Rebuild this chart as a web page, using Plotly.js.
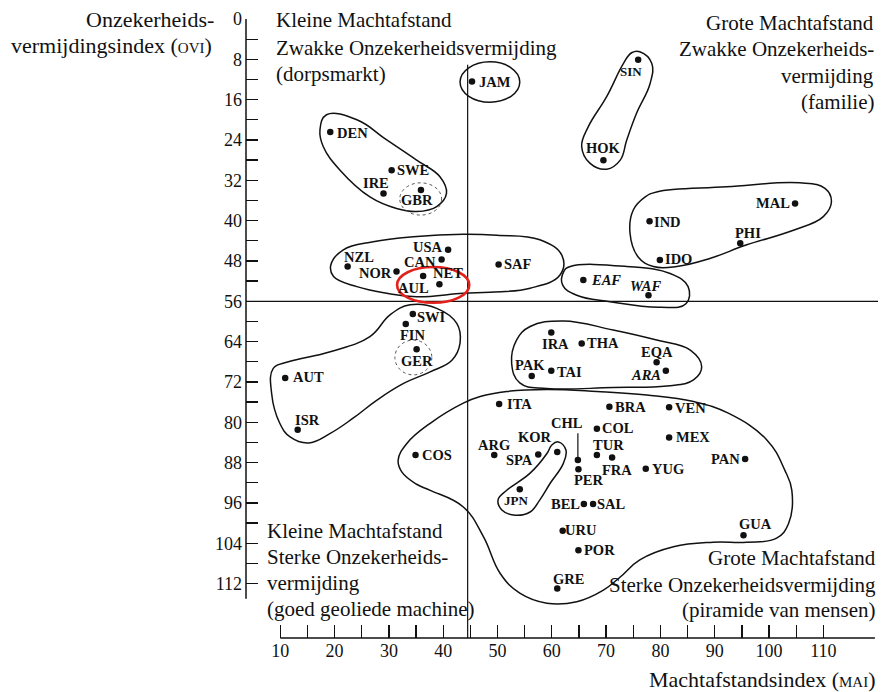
<!DOCTYPE html>
<html><head><meta charset="utf-8">
<script src="https://cdn.plot.ly/plotly-3.0.1.min.js"></script>
<style>body{margin:0;background:#fff}</style>
</head><body><div id="chart" style="width:890px;height:692px"></div>
<script>
// ---- data ----
const countries = ['DEN','SWE','IRE','GBR','NZL','NOR','USA','CAN','AUL','NET','SAF','JAM','SIN','HOK','MAL','IND','PHI','IDO','EAF','WAF','SWI','FIN','GER','AUT','ISR','IRA','THA','EQA','ARA','PAK','TAI','ITA','BRA','VEN','COL','MEX','COS','ARG','SPA','KOR','CHL','TUR','FRA','PER','YUG','PAN','JPN','BEL','SAL','URU','POR','GUA','GRE'];
const mai = [19.2,30.5,29.0,35.9,22.4,31.4,40.9,39.7,36.3,39.3,50.2,45.3,75.9,69.5,104.8,78.0,94.7,79.9,65.8,77.8,34.4,33.1,35.1,10.9,13.2,59.9,65.5,79.3,81.0,56.3,59.9,50.3,70.6,81.6,68.3,81.6,34.9,49.4,57.5,61.0,64.8,68.3,71.1,64.9,77.3,95.6,54.1,65.9,67.6,62.0,64.9,95.3,61.0];
const ovi = [22.4,30.0,34.6,33.9,49.1,50.1,45.8,47.7,51.0,52.6,48.7,12.4,8.1,28.0,36.6,40.1,44.5,47.8,51.8,54.8,58.5,60.5,65.5,71.2,81.5,62.2,64.4,68.1,69.8,70.8,69.8,76.4,76.9,77.0,81.3,83.0,86.5,86.5,86.4,85.9,87.5,86.5,87.0,89.3,89.2,87.3,93.3,96.2,96.2,101.5,105.4,102.4,113.0];
const italicCountries = ['EAF','WAF','ARA'];

const xTickVals = [10,20,30,40,50,60,70,80,90,100,110];
const xMinorVals = [15,25,35,45,55,65,75,85,95,105];
const yTickVals = [0,8,16,24,32,40,48,56,64,72,80,88,96,104,112];
const yMinorVals = [4,12,20,28,36,44,52,60,68,76,84,92,100,108];

const maiDivide = 44.5;
const oviDivide = 56;

// cluster outlines (hand-drawn in original), [mai, ovi]
const outlineNordic = [[18.5,19.0],[24.1,20.0],[29.6,24.0],[35.1,28.0],[39.4,31.3],[40.6,34.6],[38.8,37.2],[35.1,38.2],[31.4,37.6],[26.5,35.3],[21.0,30.0],[17.9,25.3],[17.3,22.0]];
const outlineAnglo = [[19.3,48.8],[21.6,45.8],[27.1,44.2],[34.5,43.2],[43.7,42.7],[49.9,42.9],[57.8,43.8],[61.9,47.0],[61.5,50.8],[56.0,53.4],[48.6,54.2],[43.7,54.4],[35.1,55.1],[29.6,54.4],[24.1,53.1],[19.8,51.1]];
const outlineSinHok = [[76.2,6.5],[78.4,8.8],[78.1,12.8],[75.6,18.7],[73.8,24.0],[72.6,28.0],[70.1,29.8],[67.0,28.6],[65.5,25.3],[66.7,21.4],[70.1,15.4],[73.2,8.8],[74.7,6.7]];
const outlineAsia = [[79.3,34.3],[92.2,33.3],[105.7,32.5],[110.3,33.6],[111.5,36.2],[110.0,39.2],[104.5,41.9],[95.9,44.8],[89.1,47.5],[83.0,49.1],[78.7,49.1],[75.9,47.2],[74.4,42.5],[75.0,37.9],[77.2,35.3]];
const outlineAfrica = [[63.4,49.1],[73.8,49.1],[81.8,50.5],[85.1,53.1],[84.7,56.5],[79.9,57.2],[70.7,56.1],[64.6,54.8],[62.0,52.8],[62.2,50.1]];
const outlineGerman = [[33.9,56.7],[38.8,57.4],[42.5,60.4],[43.1,64.3],[41.6,67.7],[37.6,70.0],[32.7,72.3],[27.8,75.6],[23.4,79.2],[19.2,82.2],[15.2,84.1],[11.8,82.9],[9.9,80.2],[8.4,74.3],[8.7,69.3],[11.5,68.0],[19.2,66.0],[26.5,63.0],[30.2,58.7]];
const outlineMidEast = [[56.0,61.0],[62.1,59.9],[71.3,61.7],[79.3,63.7],[85.5,65.7],[87.6,69.0],[86.1,71.6],[81.2,72.8],[71.3,73.1],[59.1,73.3],[54.1,72.2],[52.6,68.3],[53.5,63.7]];
const outlineLatin = [[31.7,87.5],[33.3,84.2],[37.6,80.2],[43.7,76.2],[46.8,74.9],[51.7,73.9],[59.1,73.5],[68.3,73.9],[77.5,74.6],[86.1,75.9],[92.5,78.2],[99.6,83.5],[102.9,89.5],[104.2,93.5],[103.6,100.1],[101.4,103.0],[95.9,103.8],[89.7,103.8],[82.4,104.7],[76.2,107.3],[72.6,110.7],[69.5,113.3],[64.6,115.6],[59.1,115.9],[54.1,113.9],[50.5,110.0],[47.4,102.7],[43.7,96.8],[37.6,93.5],[35.1,92.3],[32.4,89.9]];
const outlineJpnKor = [[61.2,83.9],[62.6,85.5],[62.1,88.2],[59.7,92.1],[57.8,95.4],[56.0,97.8],[52.9,98.4],[50.8,97.4],[50.1,95.4],[51.7,93.5],[56.0,90.1],[59.1,86.2],[60.0,84.5]];
const outlines = [outlineNordic, outlineAnglo, outlineSinHok, outlineAsia, outlineAfrica, outlineGerman, outlineMidEast, outlineLatin, outlineJpnKor];

// elliptical outlines: [x0, x1, y0, y1]
const ellipseJAM = [43.1, 54.1, 8.5, 16.5];
const circleGBR = [32.0, 39.7, 32.5, 38.9];
const circleGER = [31.1, 37.9, 63.7, 70.6];
const ellipseNET = [31.5, 44.8, 49.2, 56.3];

// ---- styles: label offsets in px (dx right, dy down) ----
const labelOffsets = {
 DEN:[22.5,1.5], SWE:[21,0], IRE:[-7,-10], GBR:[-4,10], NZL:[11,-10], NOR:[-21,1.5], USA:[-20,-2.5], CAN:[-22,2.5],
 AUL:[-10,11.7], NET:[9,-10.7], SAF:[19.5,0], JAM:[22.7,0], SIN:[-7.5,11.7], HOK:[0,-11.7], MAL:[-22,0], IND:[18,0.5],
 PHI:[8,-10], IDO:[18.5,-0.5], EAF:[22.5,0], WAF:[-2.5,-9], SWI:[19,3], FIN:[7,11], GER:[0,11.7], AUT:[23,-1], ISR:[9.5,-10],
 IRA:[4.5,11], THA:[21,-0.7], EQA:[0,-10.7], ARA:[-20,4.5], PAK:[-2,-10.7], TAI:[18,1], ITA:[20,0], BRA:[21.5,0], VEN:[21.5,1],
 COL:[21,-1.3], MEX:[23.5,-0.7], COS:[21.5,0], ARG:[0,-10], SPA:[-18.5,5], KOR:[-22,-15], CHL:[-11,-37.3], TUR:[11.5,-10],
 FRA:[5,12], PER:[10.5,10.7], YUG:[22,0], PAN:[-20,0], JPN:[-3.5,11], BEL:[-18.7,0], SAL:[18.7,0], URU:[18,-0.7], POR:[21.5,0],
 GUA:[12,-11], GRE:[11,-9.3]
};

const SERIF = 'Liberation Serif, Times New Roman, serif';
const INK = '#111';
const L = 246, R = 878, T = 19, B = 638;
const px2x = p => (p - L) / (R - L);
const py2y = p => 1 - (p - T) / (B - T);

const traces = [];
outlines.forEach(o => {
  const pts = o.concat([o[0]]);
  traces.push({type:'scatter', mode:'lines', x: pts.map(p=>p[0]), y: pts.map(p=>p[1]),
    line:{color:INK, width:1.5, shape:'spline', smoothing:1.2}, hoverinfo:'skip', showlegend:false});
});
traces.push({type:'scatter', mode:'markers', x: mai, y: ovi, text: countries,
  marker:{color:INK, size:6.5}, hoverinfo:'text', showlegend:false});

const annotations = countries.map((c, i) => {
  const off = labelOffsets[c];
  const it = italicCountries.includes(c);
  const txt = it ? '<i>'+c+'</i>' : c;
  return {x: mai[i], y: ovi[i], xref:'x', yref:'y', text: '<b>'+txt+'</b>', showarrow:false,
    xshift: off[0], yshift: -off[1], xanchor:'center', yanchor:'middle',
    font:{family:SERIF, size: c==='JPN'||c==='SIN' ? 13 : 14.5, color:INK}};
});

function textLine(str, px, py, anchor, size) {
  annotations.push({xref:'paper', yref:'paper', x: px2x(px), y: py2y(py), text: str, showarrow:false,
    xanchor: anchor, yanchor:'middle', font:{family:SERIF, size:size, color:INK}});
}
const sc = s => '<span style="font-size:15px">' + s + '</span>';
// axis titles
textLine('Onzekerheids-', 216, 19, 'right', 22);
textLine('vermijdingsindex (' + sc('OVI') + ')', 214, 45, 'right', 22);
textLine('Machtafstandsindex (' + sc('MAI') + ')', 878, 679, 'right', 22);
// quadrant captions
textLine('Kleine Machtafstand', 274, 20.5, 'left', 21);
textLine('Zwakke Onzekerheidsvermijding', 274, 47.5, 'left', 21);
textLine('(dorpsmarkt)', 274, 74, 'left', 21);
textLine('Grote Machtafstand', 876, 22.5, 'right', 21);
textLine('Zwakke Onzekerheids-', 876, 49, 'right', 21);
textLine('vermijding', 876, 75.5, 'right', 21);
textLine('(familie)', 876, 102, 'right', 21);
textLine('Kleine Machtafstand', 265, 530.5, 'left', 21);
textLine('Sterke Onzekerheids-', 265, 557, 'left', 21);
textLine('vermijding', 265, 583, 'left', 21);
textLine('(goed geoliede machine)', 265, 609, 'left', 21);
textLine('Grote Machtafstand', 878, 557.5, 'right', 21);
textLine('Sterke Onzekerheidsvermijding', 878, 585, 'right', 21);
textLine('(piramide van mensen)', 878, 610, 'right', 21);

const yBottom = 122.8;
const chlIdx = countries.indexOf('CHL');
const ell = (b, color, width, dash) => ({type:'circle', xref:'x', yref:'y', x0:b[0], x1:b[1], y0:b[2], y1:b[3], line:{color:color, width:width, dash:dash||'solid'}});
const shapes = [
  {type:'line', xref:'x', yref:'paper', x0:10, x1:119.5, y0:0, y1:0, line:{color:INK, width:1.5}},
  {type:'line', xref:'paper', yref:'y', x0:0, x1:0, y0:0, y1:115, line:{color:INK, width:1.5}},
  {type:'line', xref:'x', yref:'y', x0:maiDivide, x1:maiDivide, y0:9.1, y1:yBottom, line:{color:INK, width:1.2}},
  {type:'line', xref:'paper', yref:'y', x0:0, x1:1, y0:oviDivide, y1:oviDivide, line:{color:INK, width:1.2}},
  {type:'line', xref:'x', yref:'y', x0:mai[chlIdx], x1:mai[chlIdx], y0:ovi[chlIdx]-5.3, y1:ovi[chlIdx], line:{color:INK, width:1.2}},
  ell(ellipseJAM, INK, 1.5),
  ell(circleGBR, '#555', 1, 'dot'),
  ell(circleGER, '#555', 1, 'dot'),
  ell(ellipseNET, '#e3211c', 2.6)
];

const layout = {
  width:890, height:692,
  margin:{l:L, r:890-R, t:T, b:692-B, pad:0},
  paper_bgcolor:'#fff', plot_bgcolor:'#fff',
  showlegend:false,
  xaxis:{range:[3.68, 120.07], showline:false, zeroline:false, showgrid:false,
    tickmode:'array', tickvals:xTickVals, ticks:'inside', ticklen:13, tickwidth:1.3, tickcolor:INK,
    tickfont:{family:SERIF, size:18, color:INK},
    minor:{tickmode:'array', tickvals:xMinorVals, ticks:'inside', ticklen:13, tickwidth:1.3, tickcolor:INK, showgrid:false}},
  yaxis:{range:[yBottom, 0], showline:false, zeroline:false, showgrid:false,
    tickmode:'array', tickvals:yTickVals, ticks:'inside', ticklen:12, tickwidth:1.3, tickcolor:INK,
    tickfont:{family:SERIF, size:18, color:INK}, ticklabelstandoff:3,
    minor:{tickmode:'array', tickvals:yMinorVals, ticks:'inside', ticklen:12, tickwidth:1.3, tickcolor:INK, showgrid:false}},
  shapes: shapes,
  annotations: annotations
};

Plotly.newPlot('chart', traces, layout, {displayModeBar:false, staticPlot:true});
</script></body></html>
